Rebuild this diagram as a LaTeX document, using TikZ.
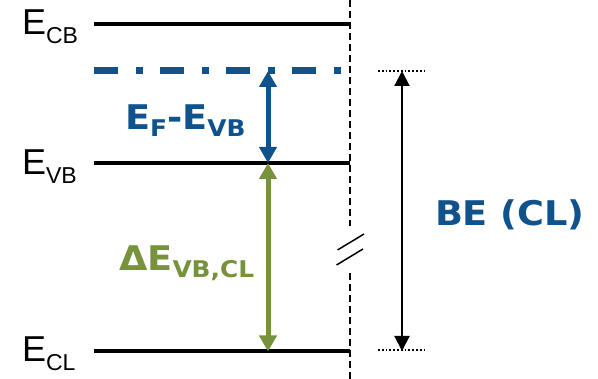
\documentclass[tikz,border=0pt]{standalone}
\usepackage{fontspec}
\setmainfont{Liberation Sans}
\newfontfamily\vfont[FakeStretch=1.08]{DejaVu Sans}
\usetikzlibrary{arrows.meta}
\definecolor{myblue}{RGB}{16,82,140}
\definecolor{mygreen}{RGB}{118,146,60}
\newcommand{\lvlab}[2]{\fontsize{36}{36}\selectfont #1\raisebox{-9pt}{\fontsize{23}{23}\selectfont #2}}
\newcommand{\bsub}[1]{\raisebox{-7pt}{\fontsize{23}{23}\selectfont #1}}
\begin{document}
\begin{tikzpicture}[x=1pt,y=-1pt,
  level/.style={line width=4pt},
  fermi/.style={myblue,line width=7pt,dash pattern=on 24pt off 17.5pt on 7.5pt off 17pt},
  axisline/.style={line width=1.5pt,dash pattern=on 7pt off 4pt},
  breakmark/.style={line width=1.5pt},
  bigarrow/.style={line width=5pt,{Triangle[length=16pt,width=17pt]}-{Triangle[length=16pt,width=17pt]}},
  thinarrow/.style={line width=2pt,{Triangle[length=15pt,width=15pt]}-{Triangle[length=15pt,width=15pt]}},
  dotline/.style={line width=1.2pt,dash pattern=on 1.8pt off 2pt},
  lab/.style={anchor=base west,inner sep=0pt,outer sep=0pt},
  blab/.style={lab,font=\vfont\bfseries\fontsize{34}{34}\selectfont}]
\useasboundingbox (0,0) rectangle (598,379);
% level line ends
\coordinate (cbL) at (94,24);    \coordinate (cbR) at (350,24);
\coordinate (efL) at (94,71);    \coordinate (efR) at (341,71);
\coordinate (vbL) at (94,163);   \coordinate (vbR) at (350,163);
\coordinate (clL) at (94,351.5); \coordinate (clR) at (350,351.5);
% axis
\coordinate (axT) at (350,0);   \coordinate (axB1) at (350,226);
\coordinate (axT2) at (350,273); \coordinate (axB) at (350,379);
\draw[axisline] (axT) -- (axB1);
\draw[axisline] (axT2) -- (axB);
\coordinate (bk1a) at (337.5,250); \coordinate (bk1b) at (364,234);
\coordinate (bk2a) at (336.5,265); \coordinate (bk2b) at (363,249);
\draw[breakmark] (bk1a) -- (bk1b);
\draw[breakmark] (bk2a) -- (bk2b);
% levels
\draw[level] (cbL) -- (cbR);
\draw[level] (vbL) -- (vbR);
\draw[level] (clL) -- (clR);
\draw[fermi] (efL) -- (efR);
% arrows
\coordinate (aF) at (268,71);
\coordinate (aV) at (268,163);
\coordinate (aC) at (268,351.5);
\draw[bigarrow,myblue] (aF) -- (aV);
\draw[bigarrow,mygreen] (aV) -- (aC);
\coordinate (beT) at (402,71);
\coordinate (beB) at (402,351);
\coordinate (dtL) at (378,71);  \coordinate (dtR) at (424,71);
\coordinate (dbL) at (378,350); \coordinate (dbR) at (424,350);
\draw[dotline] (dtL) -- (dtR);
\draw[dotline] (dbL) -- (dbR);
\draw[thinarrow] (beT) -- (beB);
% labels
\node[lab] (lcb) at (22,35) {\lvlab{E}{CB}};
\node[lab] (lvb) at (22,175) {\lvlab{E}{VB}};
\node[lab] (lcl) at (22,362) {\lvlab{E}{CL}};
\node[blab,text=myblue] (lef) at (125,130) {E\bsub{F}-E\bsub{VB}};
\node[blab,text=mygreen] (lde) at (119,271) {ΔE\bsub{VB,CL}};
\node[blab,text=myblue] (lbe) at (435,226) {BE (CL)};
\end{tikzpicture}
\end{document}
